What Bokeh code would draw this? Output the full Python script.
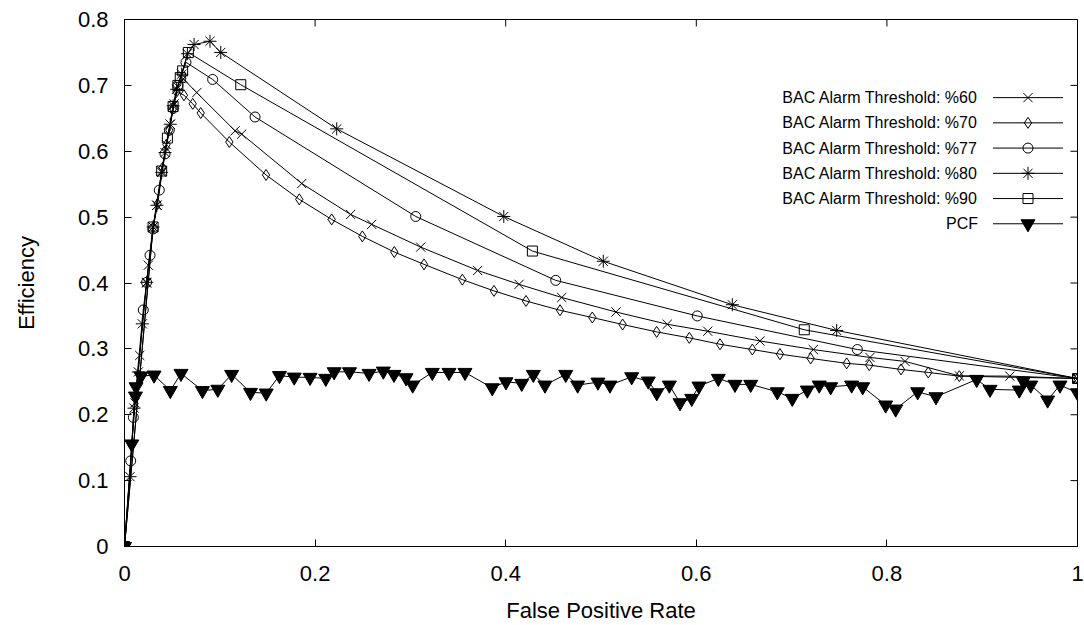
from bokeh.plotting import figure
from bokeh.models import Range1d, FixedTicker
from bokeh.core.properties import value
from bokeh.embed import file_html
from bokeh.resources import INLINE

# ---------------- data ----------------
x60 = [0, 0.0110, 0.0160, 0.0232, 0.0250, 0.0300, 0.0340, 0.0390, 0.0440, 0.0480, 0.0520, 0.0560,
       0.0617, 0.0758, 0.1160, 0.1230, 0.1860, 0.2373, 0.2594, 0.3108, 0.3706, 0.4140, 0.4588,
       0.5157, 0.5696, 0.6120, 0.6668, 0.7228, 0.7822, 0.8190, 0.8760, 0.9290, 1.0]
y60 = [0, 0.218, 0.290, 0.400, 0.427, 0.485, 0.518, 0.570, 0.610, 0.641, 0.672, 0.698,
       0.710, 0.689, 0.631, 0.626, 0.551, 0.504, 0.489, 0.4545, 0.419, 0.398, 0.378,
       0.356, 0.3374, 0.3268, 0.312, 0.299, 0.287, 0.281, 0.259, 0.2586, 0.255]

x70 = [0, 0.0300, 0.0348, 0.0400, 0.0440, 0.0470, 0.0510, 0.0545, 0.0624, 0.0716, 0.0800,
       0.1100, 0.1485, 0.1834, 0.2174, 0.2496, 0.2831, 0.3143, 0.3545, 0.3877, 0.4213, 0.4570,
       0.4909, 0.5227, 0.5584, 0.5927, 0.6249, 0.6588, 0.6878, 0.7200, 0.7578, 0.7815, 0.8148,
       0.8434, 0.8760, 1.0]
y70 = [0, 0.484, 0.520, 0.575, 0.610, 0.632, 0.665, 0.690, 0.685, 0.672, 0.658,
       0.614, 0.564, 0.527, 0.4965, 0.4708, 0.447, 0.4283, 0.4051, 0.388, 0.3727, 0.3586,
       0.3476, 0.337, 0.3258, 0.3167, 0.307, 0.299, 0.292, 0.2855, 0.278, 0.2753, 0.2688,
       0.2642, 0.2586, 0.255]

x77 = [0, 0.0065, 0.0093, 0.0197, 0.0232, 0.0268, 0.0300, 0.0365, 0.0425, 0.0470, 0.0510,
       0.0560, 0.0645, 0.0925, 0.1370, 0.3056, 0.4525, 0.6010, 0.7690, 1.0]
y77 = [0, 0.130, 0.196, 0.359, 0.401, 0.442, 0.482, 0.541, 0.596, 0.632, 0.665,
       0.700, 0.735, 0.709, 0.652, 0.501, 0.404, 0.350, 0.299, 0.255]

x80 = [0, 0.0058, 0.0100, 0.0145, 0.0187, 0.0233, 0.0300, 0.0340, 0.0390, 0.0425, 0.0480,
       0.0510, 0.0548, 0.0600, 0.0660, 0.0730, 0.0897, 0.1010, 0.2227, 0.3980, 0.5024,
       0.6378, 0.7473, 1.0]
y80 = [0, 0.106, 0.210, 0.265, 0.338, 0.401, 0.485, 0.518, 0.568, 0.598, 0.641,
       0.669, 0.694, 0.717, 0.748, 0.762, 0.767, 0.750, 0.634, 0.501, 0.433,
       0.367, 0.328, 0.255]

x90 = [0, 0.0300, 0.0390, 0.0450, 0.0510, 0.0560, 0.0585, 0.0610, 0.0670, 0.1220, 0.4280,
       0.7133, 1.0]
y90 = [0, 0.485, 0.570, 0.620, 0.668, 0.700, 0.712, 0.722, 0.750, 0.701, 0.4485,
       0.329, 0.255]

xpcf = [0, 0.0076, 0.0115, 0.0121, 0.0173, 0.0310, 0.0481, 0.0593, 0.0818, 0.0979, 0.1124,
        0.1322, 0.1487, 0.1626, 0.1781, 0.1947, 0.2112, 0.2200, 0.2361, 0.2566, 0.2716,
        0.2828, 0.2954, 0.3024, 0.3230, 0.3405, 0.3573, 0.3859, 0.4003, 0.4168, 0.4290,
        0.4412, 0.4630, 0.4755, 0.4968, 0.5094, 0.5322, 0.5496, 0.5585, 0.5717, 0.5829,
        0.5952, 0.6028, 0.6231, 0.6406, 0.6571, 0.6850, 0.7007, 0.7165, 0.7290, 0.7410,
        0.7630, 0.7746, 0.7987, 0.8092, 0.8323, 0.8515, 0.8942, 0.9082, 0.9389, 0.9431,
        0.9509, 0.9687, 0.9816, 1.0]
ypcf = [0, 0.1556, 0.2283, 0.2424, 0.2586, 0.2602, 0.2367, 0.2627, 0.2367, 0.2386, 0.2612,
        0.2339, 0.2329, 0.2594, 0.2571, 0.2567, 0.2552, 0.2652, 0.2652, 0.2627, 0.2662,
        0.2612, 0.2561, 0.2450, 0.2642, 0.2642, 0.2642, 0.2409, 0.2500, 0.2476, 0.2612,
        0.2450, 0.2612, 0.2450, 0.2495, 0.2450, 0.2576, 0.2511, 0.2333, 0.2450, 0.2182,
        0.2248, 0.2435, 0.2552, 0.2461, 0.2461, 0.2348, 0.2248, 0.2374, 0.2450, 0.2424,
        0.2450, 0.2424, 0.2147, 0.2086, 0.2348, 0.2273, 0.2536, 0.2385, 0.2374, 0.2511,
        0.2450, 0.2223, 0.2450, 0.2333]

series_labels = ["BAC Alarm Threshold: %60", "BAC Alarm Threshold: %70",
                 "BAC Alarm Threshold: %77", "BAC Alarm Threshold: %80",
                 "BAC Alarm Threshold: %90", "PCF"]

x_ticks = [0, 0.2, 0.4, 0.6, 0.8, 1.0]
x_tick_labels = ["0", "0.2", "0.4", "0.6", "0.8", "1"]
y_ticks = [0, 0.1, 0.2, 0.3, 0.4, 0.5, 0.6, 0.7, 0.8]
y_tick_labels = ["0", "0.1", "0.2", "0.3", "0.4", "0.5", "0.6", "0.7", "0.8"]

# ---------------- styles ----------------
FONT = "Liberation Sans"
markers = [
    dict(marker="x", size=13, fill_color=None),
    dict(marker="diamond", size=11, fill_color=None),
    dict(marker="circle", size=10, fill_color=None),
    dict(marker="asterisk", size=13, fill_color=None),
    dict(marker="square", size=10, fill_color=None),
    dict(marker="inverted_triangle", size=14, fill_color="black"),
]
TICK_LEN_PX = 7
FRAME_W, FRAME_H = 953, 528

p = figure(width=1084, height=625, output_backend="svg", toolbar_location=None,
           x_range=Range1d(0, 1), y_range=Range1d(0, 0.8),
           min_border_left=124, min_border_right=7, min_border_top=19, min_border_bottom=78)
p.xgrid.visible = False
p.ygrid.visible = False
p.outline_line_color = "black"
p.outline_line_width = 1
p.background_fill_color = "white"
p.border_fill_color = "white"

for ax, ticks, labels in ((p.xaxis[0], x_ticks, x_tick_labels), (p.yaxis[0], y_ticks, y_tick_labels)):
    ax.ticker = FixedTicker(ticks=ticks)
    ax.major_label_overrides = {t: l for t, l in zip(ticks, labels)}
    ax.major_tick_in = TICK_LEN_PX
    ax.major_tick_out = 0
    ax.minor_tick_in = 0
    ax.minor_tick_out = 0
    ax.major_tick_line_color = "black"
    ax.axis_line_color = "black"
    ax.major_label_text_font = FONT
    ax.major_label_text_font_size = "22px"
    ax.major_label_text_color = "black"
    ax.axis_label_text_font = FONT
    ax.axis_label_text_font_size = "22px"
    ax.axis_label_text_font_style = "normal"
    ax.axis_label_text_color = "black"

p.xaxis[0].axis_label = "False Positive Rate"
p.yaxis[0].axis_label = "Efficiency"
p.xaxis[0].major_label_standoff = 19
p.yaxis[0].major_label_standoff = 16
p.xaxis[0].axis_label_standoff = 14
p.yaxis[0].axis_label_standoff = 36

# mirrored tick marks on the top and right frame edges (gnuplot style)
dy_tick = TICK_LEN_PX / FRAME_H * 0.8
dx_tick = TICK_LEN_PX / FRAME_W * 1.0
p.segment(x0=x_ticks, y0=[0.8] * len(x_ticks), x1=x_ticks, y1=[0.8 - dy_tick] * len(x_ticks),
          line_color="black", line_width=1)
p.segment(x0=[1.0] * len(y_ticks), y0=y_ticks, x1=[1.0 - dx_tick] * len(y_ticks), y1=y_ticks,
          line_color="black", line_width=1)

xs = [x60, x70, x77, x80, x90, xpcf]
ys = [y60, y70, y77, y80, y90, ypcf]
for xv, yv, m in zip(xs, ys, markers):
    p.line(xv, yv, line_color="black", line_width=1)
    p.scatter(xv, yv, line_color="black", line_width=1, **m)

# ---------------- legend (gnuplot style: text left, sample right) ----------------
LEG_TEXT_X = 0.8956
LEG_LINE_X0 = 0.9113
LEG_LINE_X1 = 0.9848
LEG_Y0 = 0.6814
LEG_DY = 0.0383
for i, (lab, m) in enumerate(zip(series_labels, markers)):
    yy = LEG_Y0 - i * LEG_DY
    p.text(x=[LEG_TEXT_X], y=[yy], text=[lab], text_align="right", text_baseline="middle",
           text_font=value(FONT), text_font_size="16px", text_color="black")
    p.line([LEG_LINE_X0, LEG_LINE_X1], [yy, yy], line_color="black", line_width=1)
    p.scatter([(LEG_LINE_X0 + LEG_LINE_X1) / 2], [yy], line_color="black", line_width=1, **m)

open("out.html", "w").write(file_html(p, INLINE))
